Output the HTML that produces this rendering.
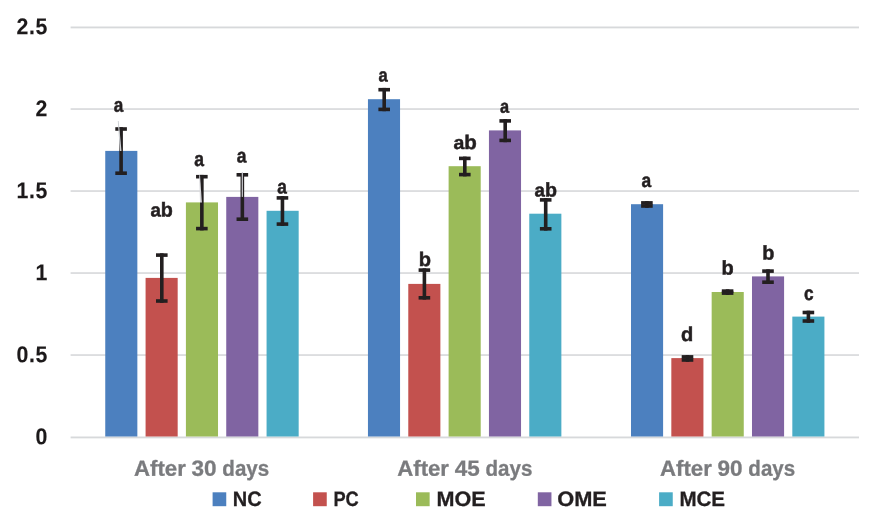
<!DOCTYPE html><html><head><meta charset="utf-8"><style>html,body{margin:0;padding:0;background:#fff}svg{display:block;will-change:transform}text{font-family:"Liberation Sans",sans-serif;font-weight:bold;text-rendering:geometricPrecision}</style></head><body>
<svg width="886" height="531" viewBox="0 0 886 531">
<rect width="886" height="531" fill="#fff"/>
<rect x="70.6" y="436.50" width="788.4" height="1.85" fill="#D7D9DB"/>
<rect x="70.6" y="354.20" width="788.4" height="1.7" fill="#D9DADC"/>
<rect x="70.6" y="272.20" width="788.4" height="1.7" fill="#D9DADC"/>
<rect x="70.6" y="190.20" width="788.4" height="1.7" fill="#D9DADC"/>
<rect x="70.6" y="108.20" width="788.4" height="1.7" fill="#D9DADC"/>
<rect x="70.6" y="26.50" width="788.4" height="1.85" fill="#D7D9DB"/>
<g>
<text transform="translate(48.15,444.30) rotate(0.05) scale(0.93,1)" x="0" y="0" font-size="22.9" text-anchor="end" letter-spacing="0.75" fill="#1c191a" stroke="#1c191a" stroke-width="0.12">0</text>
<text transform="translate(48.15,362.30) rotate(0.05) scale(0.93,1)" x="0" y="0" font-size="22.9" text-anchor="end" letter-spacing="0.75" fill="#1c191a" stroke="#1c191a" stroke-width="0.12">0.5</text>
<text transform="translate(48.15,280.30) rotate(0.05) scale(0.93,1)" x="0" y="0" font-size="22.9" text-anchor="end" letter-spacing="0.75" fill="#1c191a" stroke="#1c191a" stroke-width="0.12">1</text>
<text transform="translate(48.15,198.30) rotate(0.05) scale(0.93,1)" x="0" y="0" font-size="22.9" text-anchor="end" letter-spacing="0.75" fill="#1c191a" stroke="#1c191a" stroke-width="0.12">1.5</text>
<text transform="translate(48.15,116.30) rotate(0.05) scale(0.93,1)" x="0" y="0" font-size="22.9" text-anchor="end" letter-spacing="0.75" fill="#1c191a" stroke="#1c191a" stroke-width="0.12">2</text>
<text transform="translate(48.15,34.30) rotate(0.05) scale(0.93,1)" x="0" y="0" font-size="22.9" text-anchor="end" letter-spacing="0.75" fill="#1c191a" stroke="#1c191a" stroke-width="0.12">2.5</text>
</g>
<rect x="105.25" y="150.90" width="32.1" height="285.60" fill="#4C80BF"/>
<rect x="145.58" y="277.90" width="32.1" height="158.60" fill="#C3514E"/>
<rect x="185.91" y="202.40" width="32.1" height="234.10" fill="#9BBB59"/>
<rect x="226.24" y="196.90" width="32.1" height="239.60" fill="#8064A2"/>
<rect x="266.57" y="210.80" width="32.1" height="225.70" fill="#4BACC6"/>
<rect x="367.95" y="99.20" width="32.1" height="337.30" fill="#4C80BF"/>
<rect x="408.28" y="283.90" width="32.1" height="152.60" fill="#C3514E"/>
<rect x="448.61" y="166.20" width="32.1" height="270.30" fill="#9BBB59"/>
<rect x="488.94" y="130.40" width="32.1" height="306.10" fill="#8064A2"/>
<rect x="529.27" y="213.70" width="32.1" height="222.80" fill="#4BACC6"/>
<rect x="631.00" y="204.20" width="32.1" height="232.30" fill="#4C80BF"/>
<rect x="671.33" y="358.10" width="32.1" height="78.40" fill="#C3514E"/>
<rect x="711.66" y="292.00" width="32.1" height="144.50" fill="#9BBB59"/>
<rect x="751.99" y="276.40" width="32.1" height="160.10" fill="#8064A2"/>
<rect x="792.32" y="316.60" width="32.1" height="119.90" fill="#4BACC6"/>
<rect x="119.30" y="127.20" width="3.6" height="47.80" fill="#231F20"/>
<rect x="115.30" y="127.20" width="11.6" height="3.6" fill="#231F20"/>
<rect x="115.30" y="171.40" width="11.6" height="3.6" fill="#231F20"/>
<rect x="160.00" y="253.30" width="3.6" height="49.50" fill="#231F20"/>
<rect x="156.00" y="253.30" width="11.6" height="3.6" fill="#231F20"/>
<rect x="156.00" y="299.20" width="11.6" height="3.6" fill="#231F20"/>
<rect x="200.05" y="174.90" width="3.6" height="55.50" fill="#231F20"/>
<rect x="196.05" y="174.90" width="11.6" height="3.6" fill="#231F20"/>
<rect x="196.05" y="226.80" width="11.6" height="3.6" fill="#231F20"/>
<rect x="240.55" y="173.00" width="3.6" height="48.00" fill="#231F20"/>
<rect x="236.55" y="173.00" width="11.6" height="3.6" fill="#231F20"/>
<rect x="236.55" y="217.40" width="11.6" height="3.6" fill="#231F20"/>
<rect x="280.65" y="196.10" width="3.6" height="29.80" fill="#231F20"/>
<rect x="276.65" y="196.10" width="11.6" height="3.6" fill="#231F20"/>
<rect x="276.65" y="222.30" width="11.6" height="3.6" fill="#231F20"/>
<rect x="382.40" y="87.90" width="3.6" height="23.30" fill="#231F20"/>
<rect x="378.40" y="87.90" width="11.6" height="3.6" fill="#231F20"/>
<rect x="378.40" y="107.60" width="11.6" height="3.6" fill="#231F20"/>
<rect x="422.60" y="268.30" width="3.6" height="31.30" fill="#231F20"/>
<rect x="418.60" y="268.30" width="11.6" height="3.6" fill="#231F20"/>
<rect x="418.60" y="296.00" width="11.6" height="3.6" fill="#231F20"/>
<rect x="463.00" y="156.60" width="3.6" height="19.80" fill="#231F20"/>
<rect x="459.00" y="156.60" width="11.6" height="3.6" fill="#231F20"/>
<rect x="459.00" y="172.80" width="11.6" height="3.6" fill="#231F20"/>
<rect x="503.40" y="119.10" width="3.6" height="23.10" fill="#231F20"/>
<rect x="499.40" y="119.10" width="11.6" height="3.6" fill="#231F20"/>
<rect x="499.40" y="138.60" width="11.6" height="3.6" fill="#231F20"/>
<rect x="543.90" y="198.10" width="3.6" height="32.50" fill="#231F20"/>
<rect x="539.90" y="198.10" width="11.6" height="3.6" fill="#231F20"/>
<rect x="539.90" y="227.00" width="11.6" height="3.6" fill="#231F20"/>
<rect x="645.10" y="201.10" width="3.6" height="6.70" fill="#231F20"/>
<rect x="641.10" y="201.10" width="11.6" height="3.6" fill="#231F20"/>
<rect x="641.10" y="204.20" width="11.6" height="3.6" fill="#231F20"/>
<rect x="685.70" y="355.10" width="3.6" height="6.70" fill="#231F20"/>
<rect x="681.70" y="355.10" width="11.6" height="3.6" fill="#231F20"/>
<rect x="681.70" y="358.20" width="11.6" height="3.6" fill="#231F20"/>
<rect x="725.80" y="289.30" width="3.6" height="5.60" fill="#231F20"/>
<rect x="721.80" y="289.30" width="11.6" height="3.6" fill="#231F20"/>
<rect x="721.80" y="291.30" width="11.6" height="3.6" fill="#231F20"/>
<rect x="766.20" y="269.30" width="3.6" height="14.70" fill="#231F20"/>
<rect x="762.20" y="269.30" width="11.6" height="3.6" fill="#231F20"/>
<rect x="762.20" y="280.40" width="11.6" height="3.6" fill="#231F20"/>
<rect x="806.60" y="310.70" width="3.6" height="12.10" fill="#231F20"/>
<rect x="802.60" y="310.70" width="11.6" height="3.6" fill="#231F20"/>
<rect x="802.60" y="319.20" width="11.6" height="3.6" fill="#231F20"/>
<polygon points="117.8,121.0 118.7,121.0 121.5,150.9 119.9,150.9" fill="#cdd0d4"/>
<polygon points="199.2,175.2 200.0,175.2 201.9,202.4 200.0,202.4" fill="#d6d6da"/>
<rect x="241.75" y="172.0" width="1.15" height="24.9" fill="#cfcfd4"/>
<g>
<text transform="rotate(0.05 113.7 111.8)" x="113.66" y="111.84" font-size="21.14" textLength="9.55" lengthAdjust="spacingAndGlyphs" fill="#231F20" stroke="#231F20" stroke-width="0.5"><tspan font-size="20.09">a</tspan></text>
<text transform="rotate(0.05 150.4 216.6)" x="150.43" y="216.60" font-size="20.13" textLength="22.50" lengthAdjust="spacingAndGlyphs" fill="#231F20" stroke="#231F20" stroke-width="0.5"><tspan font-size="19.12">a</tspan><tspan font-size="20.13">b</tspan></text>
<text transform="rotate(0.05 194.1 165.9)" x="194.15" y="165.88" font-size="21.56" textLength="9.75" lengthAdjust="spacingAndGlyphs" fill="#231F20" stroke="#231F20" stroke-width="0.5"><tspan font-size="20.49">a</tspan></text>
<text transform="rotate(0.05 236.6 162.6)" x="236.63" y="162.60" font-size="20.92" textLength="9.71" lengthAdjust="spacingAndGlyphs" fill="#231F20" stroke="#231F20" stroke-width="0.5"><tspan font-size="19.88">a</tspan></text>
<text transform="rotate(0.05 277.3 193.6)" x="277.29" y="193.60" font-size="20.97" textLength="9.60" lengthAdjust="spacingAndGlyphs" fill="#231F20" stroke="#231F20" stroke-width="0.5"><tspan font-size="19.92">a</tspan></text>
<text transform="rotate(0.05 378.6 81.5)" x="378.56" y="81.52" font-size="20.17" textLength="9.23" lengthAdjust="spacingAndGlyphs" fill="#231F20" stroke="#231F20" stroke-width="0.5"><tspan font-size="19.16">a</tspan></text>
<text transform="rotate(0.05 418.7 266.0)" x="418.71" y="266.01" font-size="19.69" textLength="12.26" lengthAdjust="spacingAndGlyphs" fill="#231F20" stroke="#231F20" stroke-width="0.5"><tspan font-size="19.69">b</tspan></text>
<text transform="rotate(0.05 453.4 149.1)" x="453.45" y="149.11" font-size="19.80" textLength="23.37" lengthAdjust="spacingAndGlyphs" fill="#231F20" stroke="#231F20" stroke-width="0.5"><tspan font-size="18.81">a</tspan><tspan font-size="19.80">b</tspan></text>
<text transform="rotate(0.05 500.0 112.8)" x="500.02" y="112.84" font-size="19.77" textLength="9.08" lengthAdjust="spacingAndGlyphs" fill="#231F20" stroke="#231F20" stroke-width="0.5"><tspan font-size="18.78">a</tspan></text>
<text transform="rotate(0.05 534.6 196.6)" x="534.58" y="196.57" font-size="19.68" textLength="22.42" lengthAdjust="spacingAndGlyphs" fill="#231F20" stroke="#231F20" stroke-width="0.5"><tspan font-size="18.69">a</tspan><tspan font-size="19.68">b</tspan></text>
<text transform="rotate(0.05 641.4 187.1)" x="641.41" y="187.11" font-size="20.62" textLength="9.69" lengthAdjust="spacingAndGlyphs" fill="#231F20" stroke="#231F20" stroke-width="0.5"><tspan font-size="19.59">a</tspan></text>
<text transform="rotate(0.05 681.1 341.0)" x="681.06" y="341.05" font-size="19.87" textLength="12.25" lengthAdjust="spacingAndGlyphs" fill="#231F20" stroke="#231F20" stroke-width="0.5"><tspan font-size="19.87">d</tspan></text>
<text transform="rotate(0.05 721.6 274.6)" x="721.64" y="274.60" font-size="19.83" textLength="12.20" lengthAdjust="spacingAndGlyphs" fill="#231F20" stroke="#231F20" stroke-width="0.5"><tspan font-size="19.83">b</tspan></text>
<text transform="rotate(0.05 762.3 259.6)" x="762.26" y="259.60" font-size="19.84" textLength="12.11" lengthAdjust="spacingAndGlyphs" fill="#231F20" stroke="#231F20" stroke-width="0.5"><tspan font-size="19.84">b</tspan></text>
<text transform="rotate(0.05 803.9 299.9)" x="803.90" y="299.88" font-size="21.02" textLength="9.62" lengthAdjust="spacingAndGlyphs" fill="#231F20" stroke="#231F20" stroke-width="0.5"><tspan font-size="19.97">c</tspan></text>
<text transform="rotate(0.05 201.9 475.7)" y="475.75" font-size="21.9" fill="#7A7B7E" stroke="#7A7B7E" stroke-width="0.3"><tspan x="134.10" textLength="51.70" lengthAdjust="spacingAndGlyphs">After</tspan> <tspan x="191.63" textLength="25.00" lengthAdjust="spacingAndGlyphs">30</tspan> <tspan x="222.33" textLength="46.85" lengthAdjust="spacingAndGlyphs">days</tspan></text>
<text transform="rotate(0.05 465.1 475.7)" y="475.75" font-size="21.9" fill="#7A7B7E" stroke="#7A7B7E" stroke-width="0.3"><tspan x="397.30" textLength="51.70" lengthAdjust="spacingAndGlyphs">After</tspan> <tspan x="454.83" textLength="25.00" lengthAdjust="spacingAndGlyphs">45</tspan> <tspan x="485.53" textLength="46.85" lengthAdjust="spacingAndGlyphs">days</tspan></text>
<text transform="rotate(0.05 727.9 475.7)" y="475.75" font-size="21.9" fill="#7A7B7E" stroke="#7A7B7E" stroke-width="0.3"><tspan x="660.10" textLength="51.70" lengthAdjust="spacingAndGlyphs">After</tspan> <tspan x="717.63" textLength="25.00" lengthAdjust="spacingAndGlyphs">90</tspan> <tspan x="748.33" textLength="46.85" lengthAdjust="spacingAndGlyphs">days</tspan></text>
<rect x="212.60" y="492.3" width="13.65" height="13.9" fill="#4C80BF"/>
<text transform="rotate(0.05 233.7 506.1)" x="232.80" y="506.1" font-size="20.8" textLength="28.80" lengthAdjust="spacingAndGlyphs" fill="#231F20" stroke="#231F20" stroke-width="0.3">NC</text>
<rect x="313.10" y="492.3" width="13.65" height="13.9" fill="#C3514E"/>
<text transform="rotate(0.05 334.3 506.1)" x="333.40" y="506.1" font-size="20.8" textLength="25.30" lengthAdjust="spacingAndGlyphs" fill="#231F20" stroke="#231F20" stroke-width="0.3">PC</text>
<rect x="416.00" y="492.3" width="13.65" height="13.9" fill="#9BBB59"/>
<text transform="rotate(0.05 437.3 506.1)" x="436.40" y="506.1" font-size="20.8" textLength="49.20" lengthAdjust="spacingAndGlyphs" fill="#231F20" stroke="#231F20" stroke-width="0.3">MOE</text>
<rect x="537.80" y="492.3" width="13.65" height="13.9" fill="#8064A2"/>
<text transform="rotate(0.05 558.1 506.1)" x="557.20" y="506.1" font-size="20.8" textLength="49.70" lengthAdjust="spacingAndGlyphs" fill="#231F20" stroke="#231F20" stroke-width="0.3">OME</text>
<rect x="659.10" y="492.3" width="13.65" height="13.9" fill="#4BACC6"/>
<text transform="rotate(0.05 680.3 506.1)" x="679.40" y="506.1" font-size="20.8" textLength="45.70" lengthAdjust="spacingAndGlyphs" fill="#231F20" stroke="#231F20" stroke-width="0.3">MCE</text>
</g>
</svg></body></html>
